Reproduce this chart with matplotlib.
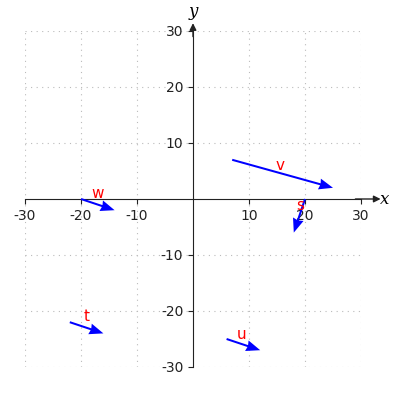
import matplotlib
matplotlib.use("Agg")
from matplotlib import pyplot as plt
import numpy as np

plt.rcParams['axes.unicode_minus'] = False

# vectors: tail point and components
names = ['v', 's', 'w', 't', 'u']
tail_x = [7, 20, -20, -22, 6]
tail_y = [7, 0, 0, -22, -25]
comp_x = [18, -2, 6, 6, 6]
comp_y = [-5, -6, -2, -2, -2]
label_x = [15.5, 19.2, -17, -19, 8.7]
label_y = [6, -1.2, 1, -21, -24.2]

ticks = [-30, -20, -10, 10, 20, 30]

fig = plt.figure(figsize=(4, 4), dpi=100)
ax = fig.add_axes([0.0625, 0.0825, 0.84, 0.84])

ax.set_xlim(-30, 30)
ax.set_ylim(-30, 30)

for s in ['top', 'right']:
    ax.spines[s].set_visible(False)
ax.spines['left'].set_position(('data', 0))
ax.spines['bottom'].set_position(('data', 0))
ax.spines['left'].set_color('#222222')
ax.spines['bottom'].set_color('#222222')

ax.set_xticks(ticks)
ax.set_yticks(ticks)
ax.tick_params(labelsize=10, colors='#222222')
ax.grid(True, linestyle=(0, (1, 4)), color='#bbbbbb', linewidth=0.8)
ax.set_axisbelow(True)

# axis arrows
ax.annotate('', xy=(33.5, 0), xytext=(29, 0),
            arrowprops=dict(arrowstyle='-|>', color='#222222', lw=1.0,
                            mutation_scale=10, shrinkA=0, shrinkB=0),
            annotation_clip=False)
ax.annotate('', xy=(0, 31.4), xytext=(0, 29),
            arrowprops=dict(arrowstyle='-|>', color='#222222', lw=1.0,
                            mutation_scale=10, shrinkA=0, shrinkB=0),
            annotation_clip=False)
ax.text(34.3, 0, 'x', family='serif', style='italic', fontsize=12,
        ha='center', va='center', clip_on=False)
ax.text(0, 33.4, 'y', family='serif', style='italic', fontsize=12,
        ha='center', va='center', clip_on=False)

ax.quiver(tail_x, tail_y, comp_x, comp_y, angles='xy', scale_units='xy',
          scale=1, color='blue', width=0.006, headwidth=5.5, headlength=7,
          headaxislength=6.5, zorder=3)

for n, lx, ly in zip(names, label_x, label_y):
    ax.text(lx, ly, n, color='red', fontsize=11, ha='center', va='center',
            zorder=4)

fig.savefig('out.png', dpi=100)
